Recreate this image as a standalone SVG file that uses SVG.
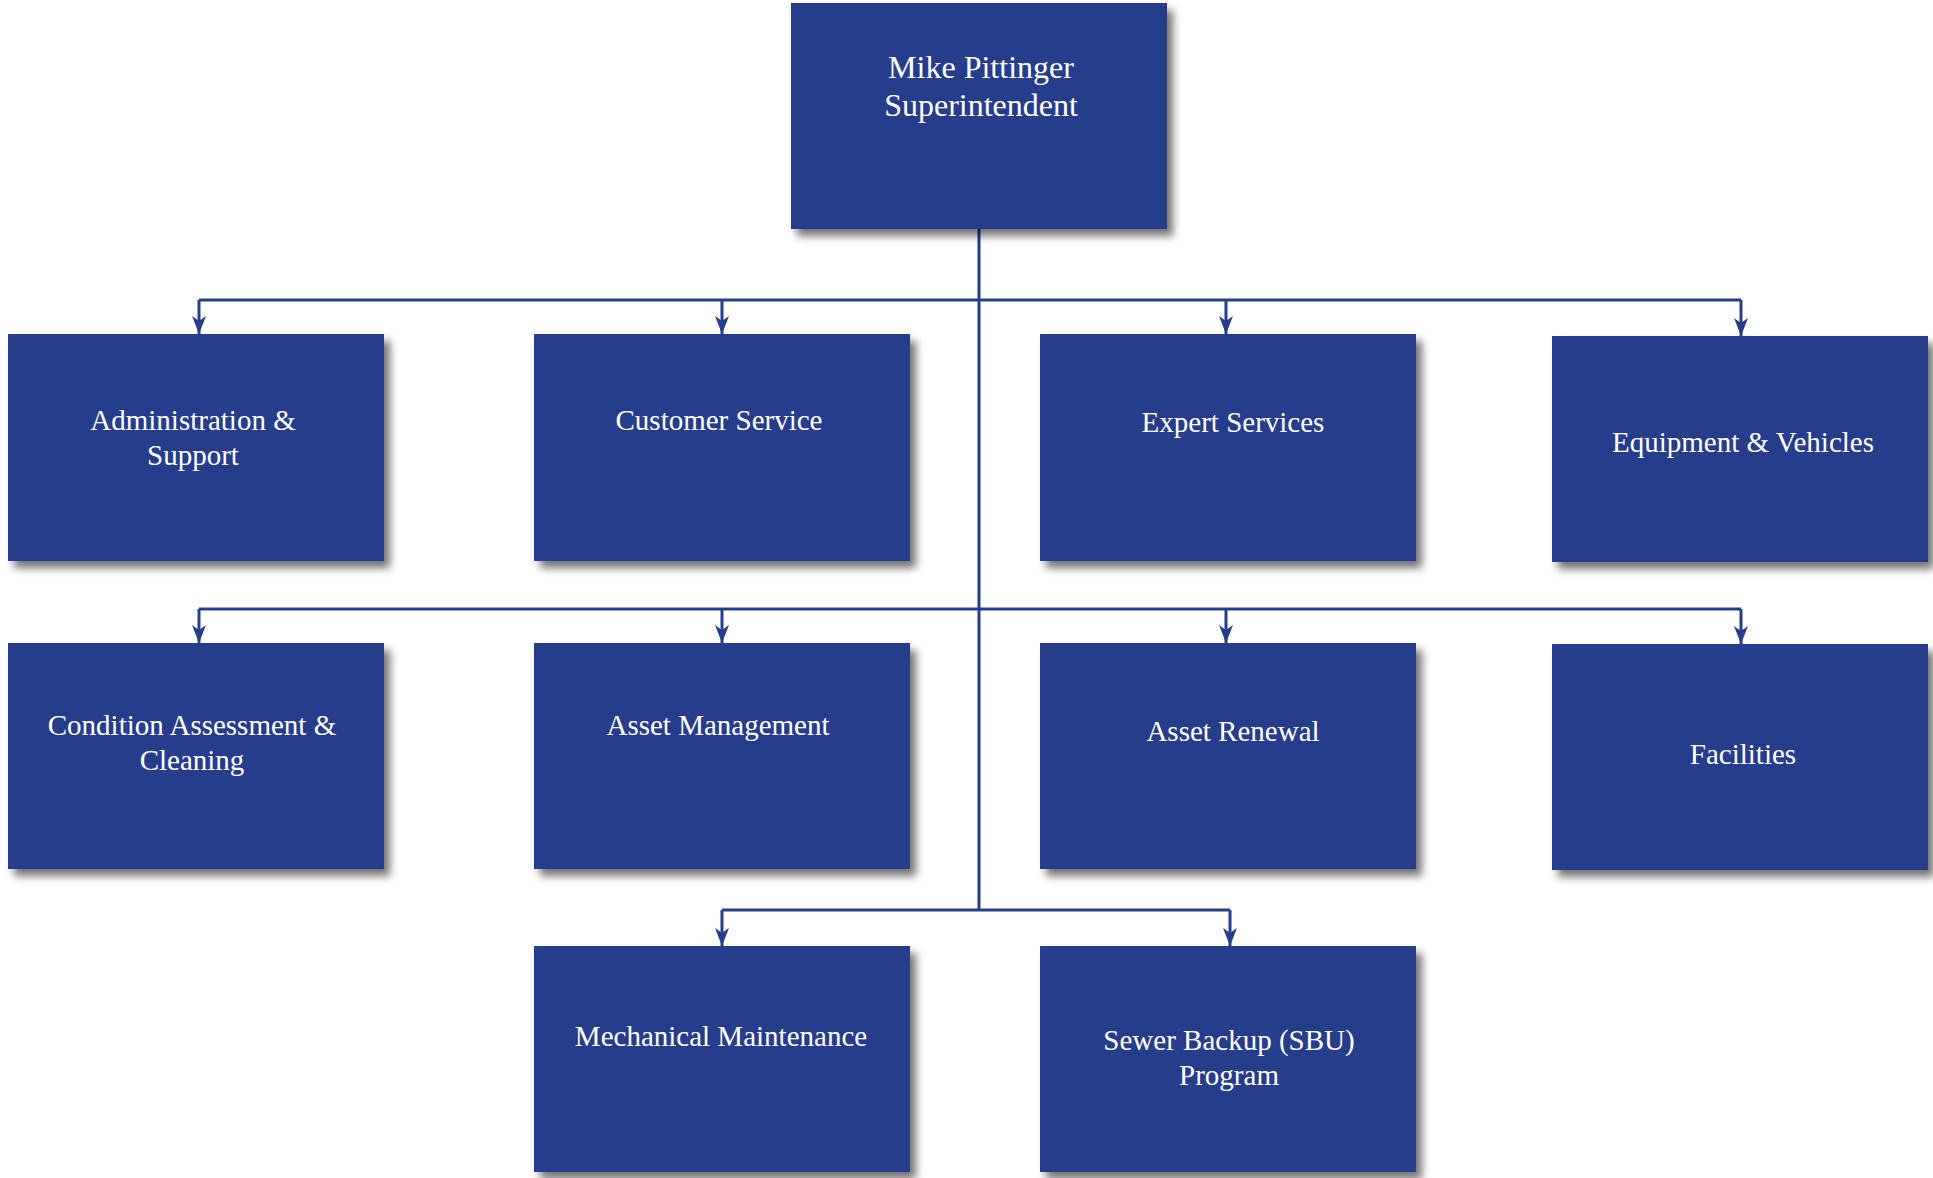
<svg xmlns="http://www.w3.org/2000/svg" width="1933" height="1178" viewBox="0 0 1933 1178">
  <style>
    .box { fill: #253E8C; filter: url(#shadow); }
    .lbl { fill: #FFFFFF; font-family: "Liberation Serif", "Times New Roman", serif; font-size: 29px; text-anchor: middle; }
    .top { font-size: 32px; }
    .conn { fill: none; stroke: #253E8C; stroke-width: 3; }
    .drop { fill: none; stroke: #253E8C; stroke-width: 3; marker-end: url(#arrow); }
  </style>
  <defs>
    <filter id="shadow" x="-10%" y="-10%" width="130%" height="130%">
      <feDropShadow dx="6" dy="7" stdDeviation="4" flood-color="#000000" flood-opacity="0.55"/>
    </filter>
    <marker id="arrow" markerUnits="userSpaceOnUse" markerWidth="18" markerHeight="14" viewBox="0 0 18 14" refX="18" refY="7" orient="auto">
      <path d="M0,0 L18,7 L0,14 L5,7 Z" fill="#253E8C"/>
    </marker>
  </defs>
  <rect width="1933" height="1178" fill="#FFFFFF"/>

  <g id="connectors">
    <path class="conn" d="M979,229 V910"/>
    <path class="conn" d="M199,300 H1741"/>
    <path class="conn" d="M199,609 H1741"/>
    <path class="conn" d="M722,910 H1230"/>
    <path class="drop" d="M199,300 V334"/>
    <path class="drop" d="M722,300 V334"/>
    <path class="drop" d="M1226,300 V334"/>
    <path class="drop" d="M1741,300 V336"/>
    <path class="drop" d="M199,609 V643"/>
    <path class="drop" d="M722,609 V643"/>
    <path class="drop" d="M1226,609 V643"/>
    <path class="drop" d="M1741,609 V644"/>
    <path class="drop" d="M722,910 V946"/>
    <path class="drop" d="M1230,910 V946"/>
  </g>

  <g id="node-superintendent">
    <rect class="box" x="791" y="3" width="376" height="226"/>
    <text class="lbl top" x="981" y="78">Mike Pittinger</text>
    <text class="lbl top" x="981" y="116">Superintendent</text>
  </g>

  <g id="node-admin">
    <rect class="box" x="8" y="334" width="376" height="227"/>
    <text class="lbl" x="193" y="430">Administration &amp;</text>
    <text class="lbl" x="193" y="465">Support</text>
  </g>
  <g id="node-customer">
    <rect class="box" x="534" y="334" width="376" height="227"/>
    <text class="lbl" x="719" y="430">Customer Service</text>
  </g>
  <g id="node-expert">
    <rect class="box" x="1040" y="334" width="376" height="227"/>
    <text class="lbl" x="1233" y="432">Expert Services</text>
  </g>
  <g id="node-equipment">
    <rect class="box" x="1552" y="336" width="376" height="226"/>
    <text class="lbl" x="1743" y="452">Equipment &amp; Vehicles</text>
  </g>

  <g id="node-condition">
    <rect class="box" x="8" y="643" width="376" height="226"/>
    <text class="lbl" x="192" y="735">Condition Assessment &amp;</text>
    <text class="lbl" x="192" y="770">Cleaning</text>
  </g>
  <g id="node-asset-management">
    <rect class="box" x="534" y="643" width="376" height="226"/>
    <text class="lbl" x="718" y="735">Asset Management</text>
  </g>
  <g id="node-asset-renewal">
    <rect class="box" x="1040" y="643" width="376" height="226"/>
    <text class="lbl" x="1233" y="741">Asset Renewal</text>
  </g>
  <g id="node-facilities">
    <rect class="box" x="1552" y="644" width="376" height="226"/>
    <text class="lbl" x="1743" y="764">Facilities</text>
  </g>

  <g id="node-mechanical">
    <rect class="box" x="534" y="946" width="376" height="226"/>
    <text class="lbl" x="721" y="1046">Mechanical Maintenance</text>
  </g>
  <g id="node-sbu">
    <rect class="box" x="1040" y="946" width="376" height="226"/>
    <text class="lbl" x="1229" y="1050">Sewer Backup (SBU)</text>
    <text class="lbl" x="1229" y="1085">Program</text>
  </g>
</svg>
